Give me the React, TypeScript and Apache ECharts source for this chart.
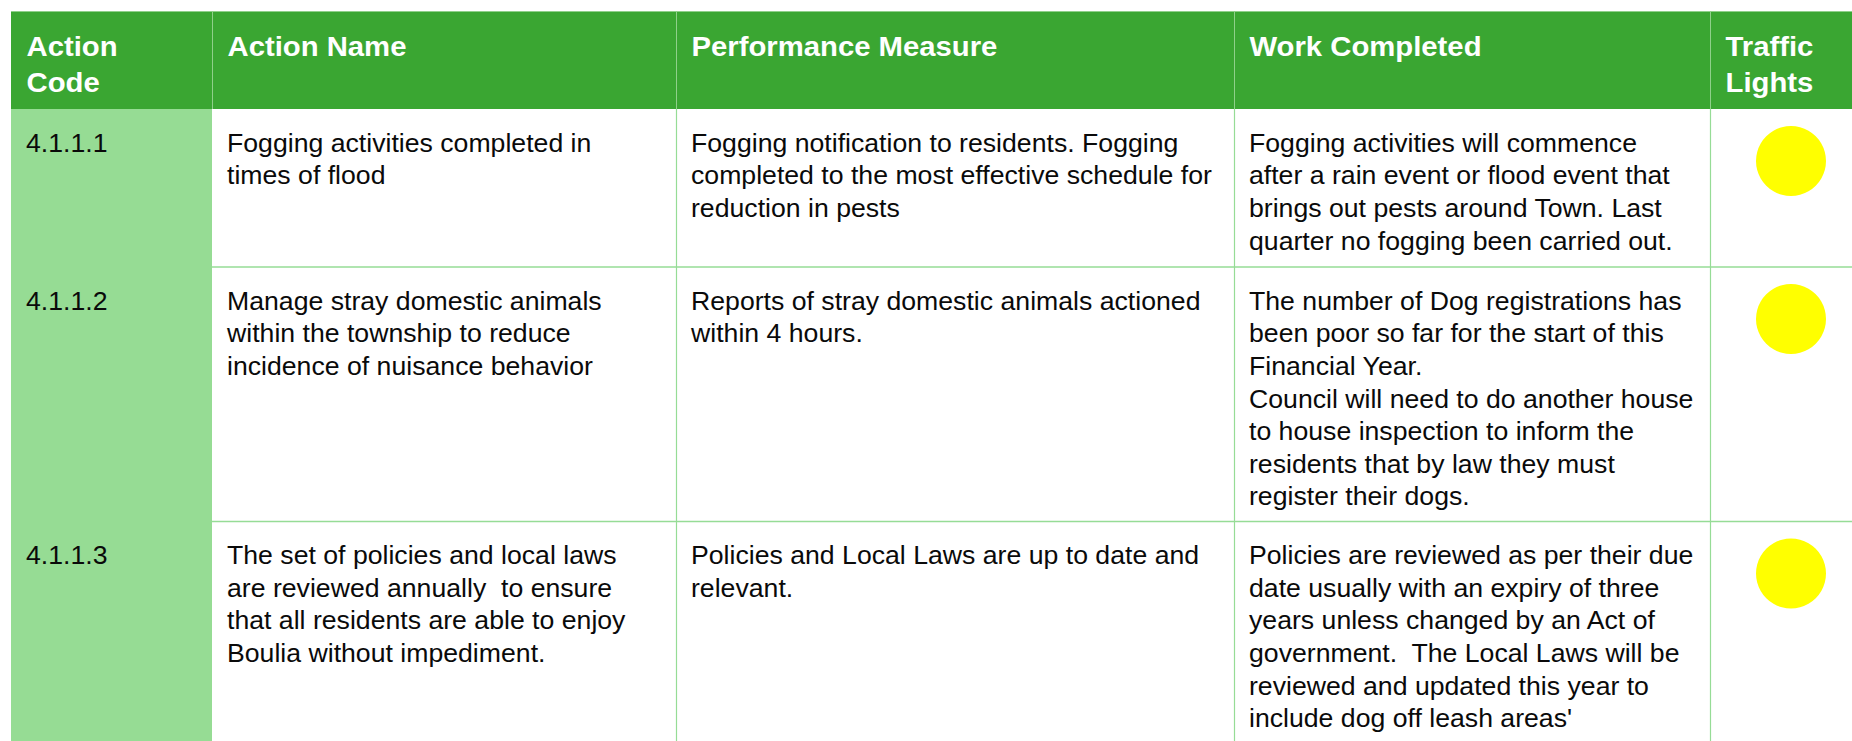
import React, { useEffect, useRef } from "react";
import * as echarts from "echarts";

// ---- table content ----
const headers = ["Action\nCode", "Action Name", "Performance Measure", "Work Completed", "Traffic\nLights"];
const codes = ["4.1.1.1", "4.1.1.2", "4.1.1.3"];
const actionNames = [
  "Fogging activities completed in\ntimes of flood",
  "Manage stray domestic animals\nwithin the township to reduce\nincidence of nuisance behavior",
  "The set of policies and local laws\nare reviewed annually  to ensure\nthat all residents are able to enjoy\nBoulia without impediment.",
];
const measures = [
  "Fogging notification to residents. Fogging\ncompleted to the most effective schedule for\nreduction in pests",
  "Reports of stray domestic animals actioned\nwithin 4 hours.",
  "Policies and Local Laws are up to date and\nrelevant.",
];
const workCompleted = [
  "Fogging activities will commence\nafter a rain event or flood event that\nbrings out pests around Town. Last\nquarter no fogging been carried out.",
  "The number of Dog registrations has\nbeen poor so far for the start of this\nFinancial Year.\nCouncil will need to do another house\nto house inspection to inform the\nresidents that by law they must\nregister their dogs.",
  "Policies are reviewed as per their due\ndate usually with an expiry of three\nyears unless changed by an Act of\ngovernment.  The Local Laws will be\nreviewed and updated this year to\ninclude dog off leash areas'",
];
const trafficLights = ["yellow", "yellow", "yellow"];

// ---- layout ----
const COL_X = [11, 212, 676, 1234, 1710, 1900];
const TABLE_TOP = 11.5;
const HEADER_BOTTOM = 109;
const ROW_BOTTOMS = [267, 521.5, 900];
const LIGHT_COLORS: Record<string, string> = { yellow: "#ffff00", green: "#00b050", red: "#ff0000" };

const HEADER_BG = "#3aa632";
const CODE_BG = "#96dc94";
const GRID = "#96dc96";
const FONT = "'Liberation Sans', Arial, Helvetica, sans-serif";

function buildGraphic() {
  const els: any[] = [];
  const W = COL_X[COL_X.length - 1];
  // header background
  els.push({ type: "rect", shape: { x: COL_X[0], y: TABLE_TOP, width: W - COL_X[0], height: HEADER_BOTTOM - TABLE_TOP }, style: { fill: HEADER_BG } });
  // code column background
  els.push({ type: "rect", shape: { x: COL_X[0], y: HEADER_BOTTOM, width: COL_X[1] - COL_X[0], height: 1000 }, style: { fill: CODE_BG } });
  // header borders (lighter)
  els.push({ type: "line", shape: { x1: COL_X[0], y1: TABLE_TOP, x2: W, y2: TABLE_TOP }, style: { stroke: "#8fd08a", lineWidth: 1 } });
  for (let i = 1; i < COL_X.length - 1; i++) {
    els.push({ type: "line", shape: { x1: COL_X[i] + 0.5, y1: TABLE_TOP, x2: COL_X[i] + 0.5, y2: HEADER_BOTTOM }, style: { stroke: "#8fd08a", lineWidth: 1 } });
  }
  // body vertical grid lines
  for (let i = 2; i < COL_X.length - 1; i++) {
    els.push({ type: "line", shape: { x1: COL_X[i] + 0.5, y1: HEADER_BOTTOM, x2: COL_X[i] + 0.5, y2: 760 }, style: { stroke: GRID, lineWidth: 1.2 } });
  }
  // body horizontal lines
  for (let r = 0; r < ROW_BOTTOMS.length - 1; r++) {
    els.push({ type: "line", shape: { x1: COL_X[1], y1: ROW_BOTTOMS[r], x2: W, y2: ROW_BOTTOMS[r] }, style: { stroke: GRID, lineWidth: 1.5 } });
  }
  // header text
  headers.forEach((h, i) => {
    els.push({
      type: "text",
      x: COL_X[i] + 15.5,
      y: TABLE_TOP + 16.5,
      scaleX: 1.065,
      style: { text: h, fill: "#ffffff", fontSize: 27.5, fontWeight: "bold", fontFamily: FONT, lineHeight: 36.5, align: "left", verticalAlign: "top" },
    });
  });
  // body rows
  const rowTops = [HEADER_BOTTOM, ...ROW_BOTTOMS.slice(0, -1)];
  const cells = [codes, actionNames, measures, workCompleted];
  rowTops.forEach((top, r) => {
    cells.forEach((col, c) => {
      els.push({
        type: "text",
        x: COL_X[c] + 15,
        y: top + 17.7,
        scaleX: 1.045,
        style: { text: col[r], fill: "#0a0a0a", fontSize: 25.5, fontFamily: FONT, lineHeight: 32.6, align: "left", verticalAlign: "top" },
      });
    });
    els.push({
      type: "circle",
      shape: { cx: 1791, cy: top + 52, r: 35 },
      style: { fill: LIGHT_COLORS[trafficLights[r]] },
    });
  });
  return els;
}

export default function App() {
  const ref = useRef<HTMLDivElement>(null);
  useEffect(() => {
    if (!ref.current) return;
    const chart = echarts.init(ref.current, undefined, { renderer: "svg" });
    chart.setOption({
      animation: false,
      backgroundColor: "#ffffff",
      graphic: { elements: buildGraphic() },
    });
    return () => chart.dispose();
  }, []);
  return <div ref={ref} style={{ position: "absolute", left: 0, top: 0, width: 1852, height: 741 }} />;
}
